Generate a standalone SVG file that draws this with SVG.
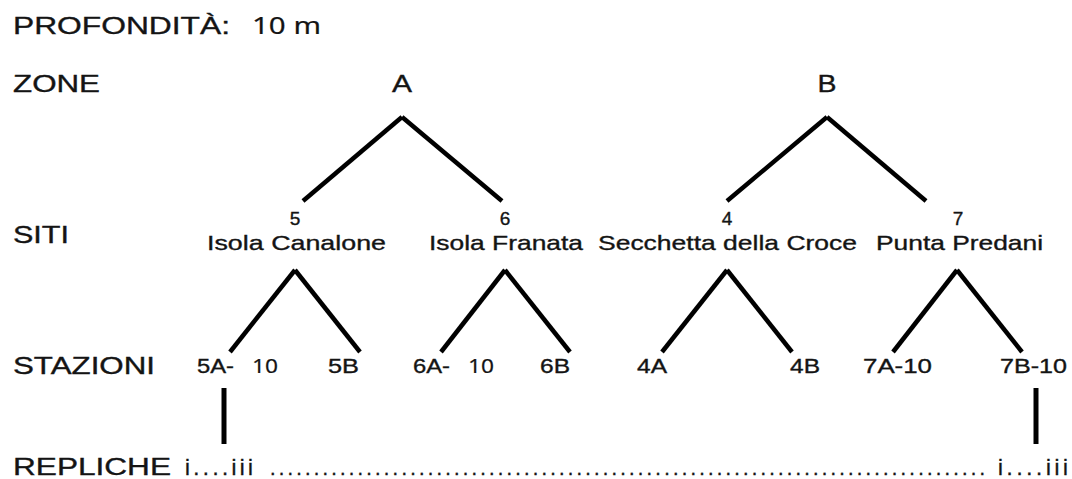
<svg xmlns="http://www.w3.org/2000/svg" width="1072" height="479" viewBox="0 0 1072 479">
<style>
text{font-family:"Liberation Sans",Arial,sans-serif;fill:#141414;stroke:#141414;stroke-width:0.35}
.row{font-size:23px}
.zone{font-size:23px;text-anchor:middle}
.num{font-size:19px;text-anchor:middle}
.site{font-size:21px}
.st{font-size:20px}
.alt{font-family:"Noto Sans","Open Sans",sans-serif;stroke-width:0.2}
.rep{font-size:22px}
.dots{font-size:20px}
.conn line{stroke:#000;stroke-width:4.5;stroke-linecap:butt;fill:none}
.conn line.v{stroke-width:5}
</style>
<rect width="1072" height="479" fill="#fff"/>
<g id="row-labels">
<text class="row" x="13" y="34" textLength="217" lengthAdjust="spacingAndGlyphs">PROFONDITÀ:</text>
<text class="row alt" x="252" y="34" font-size="22" textLength="69" lengthAdjust="spacingAndGlyphs">10 m</text>
<text class="row" x="13" y="92" textLength="87" lengthAdjust="spacingAndGlyphs">ZONE</text>
<text class="row" x="13" y="243" textLength="56" lengthAdjust="spacingAndGlyphs">SITI</text>
<text class="row" x="13" y="374" textLength="142" lengthAdjust="spacingAndGlyphs">STAZIONI</text>
<text class="row" x="13" y="475" textLength="158" lengthAdjust="spacingAndGlyphs">REPLICHE</text>
</g>
<g id="zone-A"><text class="zone" x="402" y="92" textLength="20" lengthAdjust="spacingAndGlyphs">A</text></g>
<g id="zone-B"><text class="zone" x="827" y="92" textLength="19" lengthAdjust="spacingAndGlyphs">B</text></g>
<g id="site-5">
<text class="num" x="295" y="225">5</text>
<text class="site" x="207" y="250" textLength="179" lengthAdjust="spacingAndGlyphs">Isola Canalone</text>
</g>
<g id="site-6">
<text class="num" x="505" y="225">6</text>
<text class="site" x="429" y="250" textLength="154" lengthAdjust="spacingAndGlyphs">Isola Franata</text>
</g>
<g id="site-4">
<text class="num" x="727" y="225">4</text>
<text class="site" x="598" y="250" textLength="259" lengthAdjust="spacingAndGlyphs">Secchetta della Croce</text>
</g>
<g id="site-7">
<text class="num" x="958" y="225">7</text>
<text class="site" x="876" y="250" textLength="167" lengthAdjust="spacingAndGlyphs">Punta Predani</text>
</g>
<g id="station-5A">
<text class="st" x="197" y="373" textLength="37" lengthAdjust="spacingAndGlyphs">5A-</text>
<text class="st alt" x="252" y="373" textLength="26" lengthAdjust="spacingAndGlyphs">10</text>
</g>
<g id="station-5B"><text class="st" x="328" y="373" textLength="31" lengthAdjust="spacingAndGlyphs">5B</text></g>
<g id="station-6A">
<text class="st" x="413" y="373" textLength="37" lengthAdjust="spacingAndGlyphs">6A-</text>
<text class="st alt" x="468" y="373" textLength="26" lengthAdjust="spacingAndGlyphs">10</text>
</g>
<g id="station-6B"><text class="st" x="540" y="373" textLength="30" lengthAdjust="spacingAndGlyphs">6B</text></g>
<g id="station-4A"><text class="st" x="637" y="373" textLength="30" lengthAdjust="spacingAndGlyphs">4A</text></g>
<g id="station-4B"><text class="st" x="790" y="373" textLength="30" lengthAdjust="spacingAndGlyphs">4B</text></g>
<g id="station-7A"><text class="st" x="863" y="373" textLength="69" lengthAdjust="spacingAndGlyphs">7A-10</text></g>
<g id="station-7B"><text class="st" x="1000" y="373" textLength="67" lengthAdjust="spacingAndGlyphs">7B-10</text></g>
<g id="replicates-5A"><text class="rep" x="185" y="475" textLength="68" lengthAdjust="spacing">i....iii</text></g>
<g id="replicates-dots"><text class="dots" x="270" y="475" textLength="715" lengthAdjust="spacing">..................................................................................</text></g>
<g id="replicates-7B"><text class="rep" x="998" y="475" textLength="70" lengthAdjust="spacing">i....iii</text></g>
<g id="connectors" class="conn">
<line x1="402" y1="117" x2="303" y2="201"/>
<line x1="402" y1="117" x2="502" y2="201"/>
<line x1="827" y1="117" x2="727" y2="201"/>
<line x1="827" y1="117" x2="926" y2="201"/>
<line x1="295" y1="270" x2="230" y2="352"/>
<line x1="295" y1="270" x2="360" y2="352"/>
<line x1="505" y1="270" x2="441" y2="352"/>
<line x1="505" y1="270" x2="570" y2="352"/>
<line x1="727" y1="270" x2="662" y2="352"/>
<line x1="727" y1="270" x2="792" y2="352"/>
<line x1="957" y1="270" x2="893" y2="352"/>
<line x1="957" y1="270" x2="1022" y2="352"/>
<line class="v" x1="224" y1="388" x2="224" y2="444"/>
<line class="v" x1="1036" y1="388" x2="1036" y2="444"/>
</g>
</svg>
